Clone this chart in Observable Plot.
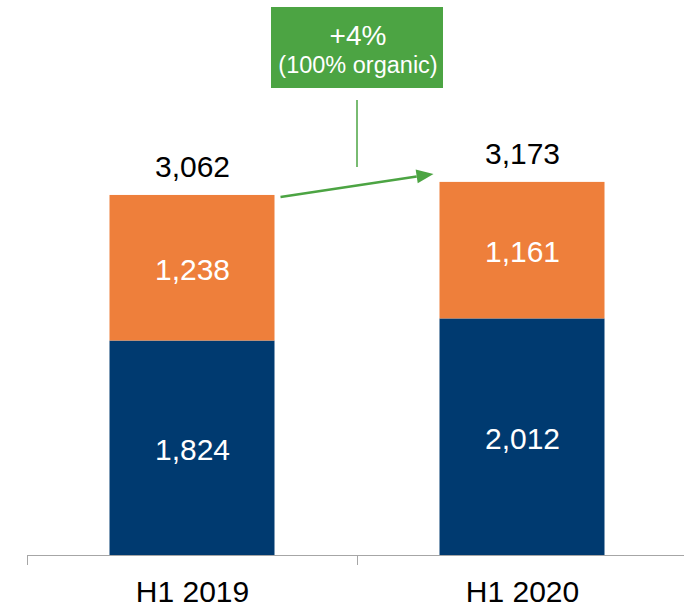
<!DOCTYPE html>
<html>
<head>
<meta charset="utf-8">
<script src="https://cdn.jsdelivr.net/npm/d3@7"></script>
<script src="https://cdn.jsdelivr.net/npm/@observablehq/plot@0.6"></script>
<style>
  html, body { margin: 0; padding: 0; background: #fff; }
  #chart { width: 684px; height: 608px; }
</style>
</head>
<body>
<div id="chart"></div>
<script>
// ---- data ----
const categories = ["H1 2019", "H1 2020"];
const segments = ["bottom", "top"];
const bottomValues = [1824, 2012];
const topValues = [1238, 1161];
const totals = [3062, 3173];
const growthLabel = "+4%";
const growthNote = "(100% organic)";

// ---- style ----
const NAVY = "#003A70";
const ORANGE = "#EE7F3B";
const GREEN = "#4CA443";
const AXIS = "#A6A6A6";
const FONT = "'Liberation Sans', Arial, sans-serif";
const fmt = d3.format(",");

const rows = categories.flatMap((c, i) => [
  {cat: c, seg: segments[0], value: bottomValues[i]},
  {cat: c, seg: segments[1], value: topValues[i]}
]);

const chart = Plot.plot({
  width: 684,
  height: 608,
  marginLeft: 27,
  marginRight: 0,
  marginTop: 0,
  marginBottom: 53,
  style: {fontFamily: FONT, background: "white", overflow: "visible"},
  x: {domain: categories, range: [27, 687], paddingInner: 0.5, paddingOuter: 0.25, round: false},
  y: {domain: [0, 4720], range: [555, 0], axis: null},
  color: {domain: segments, range: [NAVY, ORANGE]},
  marks: [
    Plot.ruleY([0], {stroke: AXIS, strokeWidth: 1}),
    Plot.axisX({tickSize: 10, tickFormat: () => "", dx: -165, stroke: AXIS, label: null}),
    Plot.axisX({tickSize: 0, tickPadding: 25, fontSize: 30, color: "black", label: null}),
    Plot.barY(rows, Plot.stackY({x: "cat", y: "value", fill: "seg"})),
    Plot.text(rows, Plot.stackY({
      x: "cat", y: "value", text: d => fmt(d.value),
      fill: "white", fontSize: 30, dy: 2
    })),
    Plot.text(categories, {
      x: d => d, y: (d, i) => totals[i], text: (d, i) => fmt(totals[i]),
      fill: "black", fontSize: 30, dy: -28
    })
  ]
});

document.getElementById("chart").appendChild(chart);

// ---- annotation drawn from the library's scales ----
const svg = d3.select(chart);
const xs = chart.scale("x"), ys = chart.scale("y");
const leftEdge = xs.apply(categories[0]) + xs.bandwidth;
const rightEdge = xs.apply(categories[1]);
const mid = (leftEdge + rightEdge) / 2;

const g = svg.append("g");
g.append("rect")
  .attr("x", mid - 86).attr("y", 7).attr("width", 172).attr("height", 81)
  .attr("fill", GREEN);
g.append("text")
  .attr("x", mid + 1).attr("y", 45).attr("text-anchor", "middle")
  .attr("fill", "white").attr("font-size", 28).attr("font-family", FONT)
  .text(growthLabel);
g.append("text")
  .attr("x", mid + 1).attr("y", 73).attr("text-anchor", "middle")
  .attr("fill", "white").attr("font-size", 23.5).attr("font-family", FONT)
  .text(growthNote);
g.append("line")
  .attr("x1", mid).attr("x2", mid).attr("y1", 100).attr("y2", 167)
  .attr("stroke", GREEN).attr("stroke-width", 1.5);

// arrow between the two totals
const ax1 = leftEdge + 6, ay1 = ys.apply(totals[0]) + 2;
const ax2 = rightEdge - 6, ay2 = ys.apply(totals[1]) - 8;
const ang = Math.atan2(ay2 - ay1, ax2 - ax1);
const headLen = 17, headHalf = 7;
const bx = ax2 - headLen * Math.cos(ang), by = ay2 - headLen * Math.sin(ang);
g.append("line")
  .attr("x1", ax1).attr("y1", ay1).attr("x2", bx).attr("y2", by)
  .attr("stroke", GREEN).attr("stroke-width", 2.5);
g.append("polygon")
  .attr("points", [
    [ax2, ay2],
    [bx + headHalf * Math.sin(ang), by - headHalf * Math.cos(ang)],
    [bx - headHalf * Math.sin(ang), by + headHalf * Math.cos(ang)]
  ].map(p => p.join(",")).join(" "))
  .attr("fill", GREEN);
</script>
</body>
</html>
